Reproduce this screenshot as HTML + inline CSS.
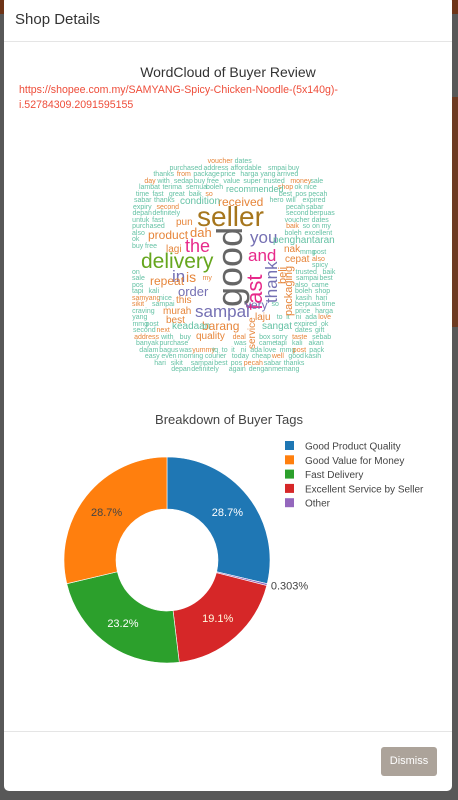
<!DOCTYPE html>
<html><head><meta charset="utf-8">
<style>
html,body{margin:0;padding:0;width:458px;height:800px;overflow:hidden;background:#585858;font-family:"Liberation Sans",sans-serif;}
#bgband{position:absolute;left:0;top:0;width:458px;height:14px;background:#6e3417;}
#bgband2{position:absolute;left:452px;top:97px;width:6px;height:230px;background:#6e3a22;}
#modal{position:absolute;left:4px;top:-4px;width:448px;height:795px;background:#fff;border-radius:5px;}
#hdr{position:absolute;left:11px;top:15px;font-size:15px;color:#333;}
#hline{position:absolute;left:0;top:45px;width:448px;height:1px;background:#e5e5e5;}
#wctitle{position:absolute;left:0;width:448px;top:68px;text-align:center;font-size:14px;color:#333;}
#url{position:absolute;left:15px;top:87px;font-size:10.6px;line-height:15px;color:#ee4d3a;white-space:nowrap;}
#cloud{position:absolute;left:0;top:0;width:458px;height:800px;}
.w{position:absolute;white-space:nowrap;line-height:1;}
#ptitle{position:absolute;left:0;width:458px;top:412px;text-align:center;font-size:13px;color:#444;}
#flline{position:absolute;left:4px;top:731px;width:448px;height:1px;background:#e5e5e5;}
#dismiss{position:absolute;left:381px;top:747px;width:56px;height:29px;background:#aca39a;border-radius:3px;color:#fff;font-size:11px;text-align:center;line-height:29px;}
</style></head><body>
<div id="bgband"></div>
<div id="bgband2"></div>
<div id="modal">
 <div id="hdr">Shop Details</div>
 <div id="hline"></div>
 <div id="wctitle">WordCloud of Buyer Review</div>
 <div id="url">https://shopee.com.my/SAMYANG-Spicy-Chicken-Noodle-(5x140g)-<br>i.52784309.2091595155</div>
</div>
<div id="cloud"></div>
<div id="ptitle">Breakdown of Buyer Tags</div>
<svg id="pie" width="458" height="800" style="position:absolute;left:0;top:0"></svg>
<div id="flline"></div>
<div id="dismiss">Dismiss</div>
<script>
const tagLabels=["Good Product Quality","Good Value for Money","Fast Delivery","Excellent Service by Seller","Other"];
const tagValues=[28.7,28.7,23.2,19.1,0.303];
const tagColors=["#1f77b4","#ff7f0e","#2ca02c","#d62728","#9467bd"];
const sliceOrder=[0,4,3,2,1];
const textLabels=["28.7%","28.7%","23.2%","19.1%","0.303%"];

const NS="http://www.w3.org/2000/svg";
const svg=document.getElementById('pie');
const cx=167,cy=560,R=103,r=51;
const total=tagValues.reduce((a,b)=>a+b,0);
function pt(a,rad){return [cx+rad*Math.sin(a),cy-rad*Math.cos(a)];}
let acc=0;
sliceOrder.forEach(i=>{
  const a0=acc/total*2*Math.PI; acc+=tagValues[i]; const a1=acc/total*2*Math.PI;
  const large=(a1-a0)>Math.PI?1:0;
  const p0=pt(a0,R),p1=pt(a1,R),q1=pt(a1,r),q0=pt(a0,r);
  const p=document.createElementNS(NS,'path');
  p.setAttribute('d',`M${p0[0]},${p0[1]}A${R},${R} 0 ${large} 1 ${p1[0]},${p1[1]}L${q1[0]},${q1[1]}A${r},${r} 0 ${large} 0 ${q0[0]},${q0[1]}Z`);
  p.setAttribute('fill',tagColors[i]);p.setAttribute('stroke','#fff');p.setAttribute('stroke-width','0.6');
  
  
  svg.appendChild(p);
  const mid=(a0+a1)/2;
  const t=document.createElementNS(NS,'text');
  let lp, anchor='middle', fill='#fff';
  if(tagValues[i]/total<0.03){lp=pt(mid,R+4);anchor='start';fill='#444';}
  else {lp=pt(mid,(R+r)/2); if(i===1) fill='#444'; if(i===3) fill='#fffbe0';}
  t.setAttribute('x',lp[0]);t.setAttribute('y',lp[1]+4);t.setAttribute('text-anchor',anchor);
  t.setAttribute('font-size','11');t.setAttribute('fill',fill);t.setAttribute('font-family','Liberation Sans, sans-serif');
  t.textContent=textLabels[i];
  
  
  svg.appendChild(t);
});
tagLabels.forEach((l,i)=>{
  const y=441+i*14.3;
  const rc=document.createElementNS(NS,'rect');
  rc.setAttribute('x',285);rc.setAttribute('y',y);rc.setAttribute('width',9);rc.setAttribute('height',9);rc.setAttribute('fill',tagColors[i]);
  
  
  svg.appendChild(rc);
  const t=document.createElementNS(NS,'text');
  t.setAttribute('x',305);t.setAttribute('y',y+8.5);t.setAttribute('font-size','10');t.setAttribute('fill','#444');t.setAttribute('font-family','Liberation Sans, sans-serif');
  t.textContent=l;
  
  
  svg.appendChild(t);
});

// word cloud
const cloud=document.getElementById('cloud');
const big=[
 ["seller",197,203,28,"#a6761d",0],["good",212,228,36,"#666666",-90],["delivery",141,251,21,"#66a61e",0],
 ["the",185,237,18,"#e7298a",0],["dah",190,226,13,"#e6853a",0],["product",148,229,12,"#e6853a",0],
 ["you",250,229,17,"#7570b3",0],["and",248,247,17,"#e7298a",0],["fast",244,262,22,"#e7298a",-90],
 ["thank",263,256,17,"#7570b3",-90],["in",172,268,17,"#7570b3",0],["is",186,270,14,"#e6853a",0],
 ["order",178,285,13,"#7570b3",0],["sampai",195,303,17,"#7570b3",0],["received",218,196,12,"#e6853a",0],
 ["barang",202,320,12,"#e6853a",0],["repeat",150,275,12,"#e6853a",0],["very",245,299,12,"#7570b3",0],
 ["beli",278,260,11,"#e6853a",-90],["packaging",284,262,11,"#e6853a",-90],["penghantaran",273,236,10,"#66c2a5",0],
 ["condition",180,197,10,"#66c2a5",0],["recommended",226,185,9,"#66c2a5",0],["cepat",285,255,10,"#e6853a",0],
 ["nak",284,245,10,"#e6853a",0],["murah",163,307,10,"#e6853a",0],["this",176,296,10,"#e6853a",0],
 ["quality",196,332,10,"#e6853a",0],["keadaan",172,322,10,"#66c2a5",0],["laju",255,313,10,"#e6853a",0],
 ["sangat",262,322,10,"#66c2a5",0],["service",248,310,10,"#e6853a",-90],["best",166,316,10,"#e6853a",0],
 ["pun",176,218,10,"#e6853a",0],["lagi",166,245,10,"#e6853a",0]
];
const filler=["voucher","dates","purchased","address","affordable","smpai","safely","thanks","from","package","price","harga","yang","arrived","ramen","gift","day","with","sedap","buy","free","value","super","trusted","money","sale","lambat","terima","semua","boleh","excellent","samyang","nicely","box","sorry","taste","shocking","banyak","purchase","really","dapat","hero","will","expired","expiry","second","berpuas","untuk","craving","sebab","makan","spicy","much","deal","order","okay","shop","ok","nice","next","time","fast","great","baik","so","on","my","also","came","tapi","kali","akan","dalam","bagus","was","yummy","tq","to","it","ni","ada","love","mmg","post","pack","easy","even","morning","courier","today","cheap","well","good","kasih","hari","sikit","sampai","best","pos","pecah","sabar","alhamdulillah","depan","definitely","again","dengan","memang"];
const rects=big.map(b=>{const w=b[0].length*b[3]*0.52,h=b[3]*0.95;return b[5]? [b[1],b[2],h,w]:[b[1],b[2],w,h];});
function free(x,y,w,h){for(const r of rects){if(x<r[0]+r[2]&&x+w>r[0]&&y<r[1]+r[3]&&y+h>r[1])return false;}return true;}
let k=0;
for(let y=158;y<372;y+=6.5){
  const dy=(y-265)/108; let hw=101*Math.sqrt(Math.max(0,1-Math.pow(Math.abs(dy),7)));
  let x=233-hw;
  while(x<233+hw-6){
    let placed=false;
    for(let t=0;t<4&&!placed;t++){
      const word=filler[(k+t*13)%filler.length];
      const w=word.length*3.5+1;
      if(x+w<=233+hw+4&&free(x,y,w,6)){
        const d=document.createElement('div');d.className='w';
        d.style.left=x+'px';d.style.top=y+'px';d.style.fontSize='7px';d.style.color=(k%8===0)?'#e6853a':'#66c2a5';
        d.textContent=word;
        
        
        cloud.appendChild(d);rects.push([x,y,w,6]);
        x+=w+1.5;placed=true;
      }
    }
    k++;
    if(!placed)x+=2;
  }
}
big.forEach(b=>{
  const d=document.createElement('div');d.className='w';
  d.style.fontSize=b[3]+'px';d.style.color=b[4];d.textContent=b[0];
  if(b[5]){const w=b[0].length*b[3]*0.55;d.style.left=b[1]+'px';d.style.top=(b[2]+w)+'px';d.style.transformOrigin='0 0';d.style.transform='rotate(-90deg)';}
  else{d.style.left=b[1]+'px';d.style.top=b[2]+'px';}
  
  
  cloud.appendChild(d);
});
</script>
</body></html>
